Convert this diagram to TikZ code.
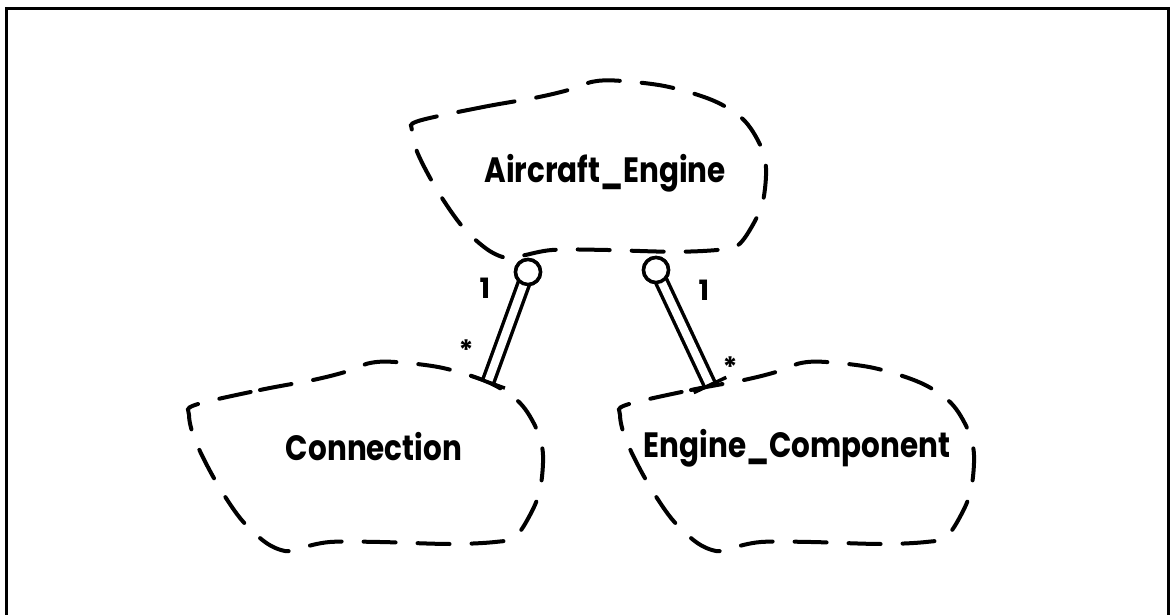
\documentclass[tikz,border=0pt]{standalone}
\usepackage{fontspec}
\usepackage{graphicx}
\setmainfont{Poppins}
\usetikzlibrary{calc}
\newcommand\clsname[1]{\scalebox{0.92}[1.1]{#1}}
\tikzset{
  cloudline/.style={line width=4pt, line cap=round, dash pattern=on 32pt off 22pt},
  classname/.style={font=\fontsize{32}{36}\selectfont\bfseries, inner sep=0pt},
  mult/.style={font=\fontsize{28}{32}\selectfont\bfseries, inner sep=0pt},
  hasline/.style={double, double distance=8pt, line width=3.5pt},
  hascircle/.style={circle, draw, line width=3.5pt, fill=white, minimum size=25pt, inner sep=0pt},
  hasbar/.style={line width=3.5pt},
  frameline/.style={line width=3pt},
  pics/cloud/.style={code={
    \draw[cloudline] plot[smooth cycle, tension=0.55] coordinates {
      (-171,-52) (-106,-67) (-53,-77) (-21,-85) (4,-94) (29,-95) (77,-89)
      (124,-74) (154,-54) (171,-27) (177,-2) (174,33) (164,58) (149,80)
      (129,85) (84,87) (14,85) (-36,85) (-66,91) (-81,94) (-101,85)
      (-126,61) (-151,23) (-171,-17) (-177,-42)};
  }}
}
\begin{document}
\begin{tikzpicture}[x=1pt, y=-1pt]
\useasboundingbox (0,0) rectangle (1171,615);
% frame (open at bottom)
\draw[frameline] (6.5,620) -- (6.5,8.5) -- (1168.5,8.5) -- (1168.5,620);

% clouds
\pic[yscale=0.94] at (589,170) {cloud};
\pic at (366,457) {cloud};
\pic at (797,457) {cloud};

% class names
\node[classname] (ae) at (605,173) {\clsname{Aircraft\_Engine}};
\node[classname] (cn) at (374,447) {\clsname{Connection}};
\node[classname] (ec) at (797,448) {\clsname{Engine\_Component}};

% has relationships
\coordinate (t1) at (488,382);
\coordinate (t2) at (710,385);
\node[hascircle] (o1) at (528,272) {};
\node[hascircle] (o2) at (656,270) {};
\draw[hasline] (o1.center) -- (t1);
\draw[hasline] (o2.center) -- (t2);
\node[hascircle] at (o1.center) {};
\node[hascircle] at (o2.center) {};
\draw[hasbar] ($(t1)!18pt!90:(o1)$) -- ($(t1)!18pt!-90:(o1)$);
\draw[hasbar] ($(t2)!18pt!90:(o2)$) -- ($(t2)!18pt!-90:(o2)$);

% multiplicities
\node[mult] (m1) at (485,288) {1};
\node[mult] (m2) at (704,290) {1};
\node[mult] (s1) at (466,350) {*};
\node[mult] (s2) at (730,367) {*};
\end{tikzpicture}
\end{document}
